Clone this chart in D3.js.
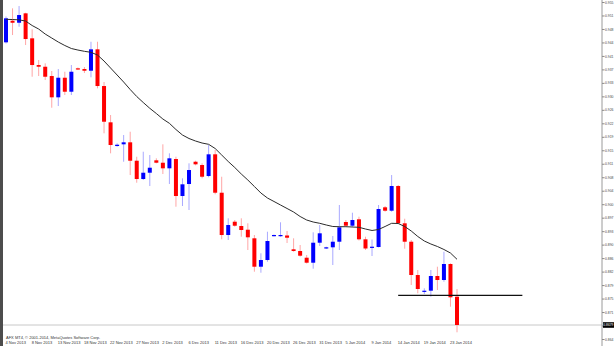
<!DOCTYPE html>
<html>
<head>
<meta charset="utf-8">
<script src="https://cdn.jsdelivr.net/npm/d3@7"></script>
<style>
  html, body { margin: 0; padding: 0; background: #fff; overflow: hidden; }
  svg { display: block; font-family: 'Liberation Sans', Arial, sans-serif; }
</style>
</head>
<body>
<svg width="614" height="346"></svg>
<script>
// daily bars, Sunday sessions included
const dates = [
  '4 Nov 2013', '5 Nov 2013', '6 Nov 2013', '7 Nov 2013', '8 Nov 2013', '10 Nov 2013', '11 Nov 2013', '12 Nov 2013',
  '13 Nov 2013', '14 Nov 2013', '15 Nov 2013', '17 Nov 2013', '18 Nov 2013', '19 Nov 2013', '20 Nov 2013', '21 Nov 2013',
  '22 Nov 2013', '24 Nov 2013', '25 Nov 2013', '26 Nov 2013', '27 Nov 2013', '28 Nov 2013', '29 Nov 2013',
  '1 Dec 2013', '2 Dec 2013', '3 Dec 2013', '4 Dec 2013', '5 Dec 2013', '6 Dec 2013', '8 Dec 2013', '9 Dec 2013',
  '10 Dec 2013', '11 Dec 2013', '12 Dec 2013', '13 Dec 2013', '15 Dec 2013', '16 Dec 2013', '17 Dec 2013', '18 Dec 2013',
  '19 Dec 2013', '20 Dec 2013', '22 Dec 2013', '23 Dec 2013', '24 Dec 2013', '26 Dec 2013', '27 Dec 2013', '29 Dec 2013',
  '30 Dec 2013', '31 Dec 2013',
  '1 Jan 2014', '2 Jan 2014', '3 Jan 2014', '5 Jan 2014', '6 Jan 2014', '7 Jan 2014', '8 Jan 2014', '9 Jan 2014',
  '10 Jan 2014', '12 Jan 2014', '13 Jan 2014', '14 Jan 2014', '15 Jan 2014', '16 Jan 2014', '17 Jan 2014', '19 Jan 2014',
  '20 Jan 2014', '21 Jan 2014', '22 Jan 2014', '23 Jan 2014', '24 Jan 2014',
];

const opens = [
  0.94421, 0.95004, 0.94950, 0.95204, 0.94529, 0.93808, 0.93762, 0.93511, 0.92936, 0.93465,
  0.93087, 0.93719, 0.93700, 0.93654, 0.94232, 0.93241, 0.92261, 0.91621, 0.91667, 0.91721,
  0.91224, 0.90730, 0.90900, 0.91235, 0.91170, 0.91019, 0.91270, 0.90271, 0.90595, 0.91197,
  0.91108, 0.90811, 0.91397, 0.90360, 0.89218, 0.89577, 0.89461, 0.89361, 0.89129, 0.88362,
  0.88543, 0.89191, 0.89191, 0.89205, 0.88832, 0.88786, 0.88605, 0.88470, 0.89010, 0.88859,
  0.88886, 0.89037, 0.89569, 0.89469, 0.89642, 0.89102, 0.88875, 0.88894, 0.89966, 0.89874,
  0.90541, 0.89534, 0.89037, 0.88138, 0.87687, 0.87714, 0.88111, 0.88003, 0.88435, 0.87552,
];
const highs = [
  0.95118, 0.95339, 0.95401, 0.95220, 0.94772, 0.93943, 0.93854, 0.93646, 0.93700, 0.93627,
  0.93808, 0.93741, 0.93754, 0.94437, 0.94437, 0.93349, 0.92458, 0.91694, 0.91918, 0.92007,
  0.91332, 0.91467, 0.91378, 0.91289, 0.91667, 0.91424, 0.91332, 0.90749, 0.91154, 0.91224,
  0.91154, 0.91648, 0.91513, 0.90792, 0.89669, 0.89623, 0.89669, 0.89534, 0.89218, 0.88724,
  0.89307, 0.89232, 0.89561, 0.89326, 0.89129, 0.88948, 0.88678, 0.89291, 0.89488, 0.88902,
  0.89191, 0.90028, 0.89623, 0.89820, 0.89712, 0.89172, 0.89097, 0.90028, 0.90001, 0.90838,
  0.90568, 0.89658, 0.89083, 0.88273, 0.87779, 0.88273, 0.88362, 0.88767, 0.88454, 0.87760,
];
const lows = [
  0.94389, 0.94618, 0.94842, 0.94348, 0.93492, 0.93511, 0.93403, 0.92655, 0.92701, 0.92998,
  0.92998, 0.93673, 0.93592, 0.93476, 0.93179, 0.91964, 0.91424, 0.91602, 0.91197, 0.90838,
  0.90630, 0.90703, 0.90541, 0.91154, 0.90865, 0.90595, 0.89982, 0.90001, 0.89893, 0.91100,
  0.90749, 0.90776, 0.90317, 0.89102, 0.89083, 0.89442, 0.89172, 0.88813, 0.88227, 0.88200,
  0.88497, 0.89178, 0.89172, 0.89002, 0.88767, 0.88632, 0.88449, 0.88308, 0.88921, 0.88840,
  0.88408, 0.88813, 0.89442, 0.89426, 0.89070, 0.88813, 0.88651, 0.88881, 0.89847, 0.89847,
  0.89515, 0.88848, 0.87868, 0.87644, 0.87625, 0.87552, 0.87733, 0.87957, 0.87282, 0.86591,
];
const closes = [
  0.95069, 0.94950, 0.95158, 0.94510, 0.93808, 0.93762, 0.93492, 0.92936, 0.93465, 0.93087,
  0.93627, 0.93692, 0.93654, 0.94232, 0.93241, 0.92277, 0.91648, 0.91656, 0.91721, 0.91224,
  0.90730, 0.90900, 0.91035, 0.91170, 0.91019, 0.91289, 0.90271, 0.90587, 0.90973, 0.91127,
  0.90792, 0.91397, 0.90360, 0.89218, 0.89488, 0.89469, 0.89353, 0.89156, 0.88362, 0.88543,
  0.89056, 0.89218, 0.89218, 0.89145, 0.88786, 0.88659, 0.88470, 0.89010, 0.89264, 0.88886,
  0.89037, 0.89426, 0.89469, 0.89623, 0.89102, 0.88854, 0.88902, 0.89920, 0.89874, 0.90541,
  0.89534, 0.89037, 0.88138, 0.87760, 0.87714, 0.88111, 0.88003, 0.88435, 0.87536, 0.86788,
];
// moving average
const maValues = [
  0.95042, 0.95037, 0.95028, 0.94996, 0.94875, 0.94780, 0.94645, 0.94537, 0.94429, 0.94335,
  0.94254, 0.94213, 0.94178, 0.94151, 0.94078, 0.93916, 0.93727, 0.93538, 0.93349, 0.93147,
  0.92958, 0.92796, 0.92639, 0.92499, 0.92350, 0.92234, 0.92067, 0.91918, 0.91824, 0.91756,
  0.91702, 0.91667, 0.91554, 0.91378, 0.91203, 0.91041, 0.90865, 0.90703, 0.90528, 0.90352,
  0.90217, 0.90123, 0.90028, 0.89934, 0.89839, 0.89718, 0.89623, 0.89569, 0.89534, 0.89488,
  0.89448, 0.89442, 0.89442, 0.89434, 0.89426, 0.89380, 0.89340, 0.89367, 0.89448, 0.89534,
  0.89529, 0.89448, 0.89326, 0.89178, 0.89056, 0.88975, 0.88908, 0.88827, 0.88732, 0.88562,
];
const priceTicks = [
  0.86410, 0.86774, 0.87138, 0.87502, 0.87866, 0.88230, 0.88594, 0.88958, 0.89322, 0.89686,
  0.90050, 0.90414, 0.90778, 0.91142, 0.91506, 0.91870, 0.92234, 0.92598, 0.92962, 0.93326,
  0.93690, 0.94054, 0.94418, 0.94782, 0.95146, 0.95510,
];
const levelPrice = 0.87590;
const levelBars = [60, 79];
const copyright = 'AFX MT4, \u00a9 2001-2014, MetaQuotes Software Corp.';

const svg = d3.select('svg');
const height = 346;
const axisX = 602;

const x = d3.scaleLinear().domain([0, dates.length - 1]).range([6, 457]);
const y = d3.scaleLinear().domain([0.8641, 0.9551]).range([339, 2]);
const bodyW = 4;

const bars = dates.map((d, i) => ({ i, o: opens[i], h: highs[i], l: lows[i], c: closes[i] }));
const last = closes[closes.length - 1];

// window frame on the left
svg.append('rect').attr('x', 0).attr('y', 0).attr('width', 3).attr('height', height).attr('fill', '#4d4d4d');

// bid line
svg.append('line')
  .attr('x1', 3).attr('x2', axisX)
  .attr('y1', y(last)).attr('y2', y(last))
  .attr('stroke', '#c8c8c8').attr('stroke-width', 1);

const g = svg.append('g');
g.selectAll('line.wick')
  .data(bars)
  .enter()
  .append('line')
  .attr('class', 'wick')
  .attr('x1', d => x(d.i)).attr('x2', d => x(d.i))
  .attr('y1', d => y(d.h)).attr('y2', d => y(d.l))
  .attr('stroke', d => (d.c >= d.o ? '#a9a9ff' : '#ffa6a6'))
  .attr('stroke-width', 1);

g.selectAll('rect.body')
  .data(bars)
  .enter()
  .append('rect')
  .attr('class', 'body')
  .attr('x', d => x(d.i) - bodyW / 2)
  .attr('y', d => y(Math.max(d.o, d.c)))
  .attr('width', bodyW)
  .attr('height', d => Math.max(1.2, Math.abs(y(d.o) - y(d.c))))
  .attr('fill', d => (d.c >= d.o ? '#0000ff' : '#ff0000'));

// moving average
svg.append('path')
  .datum(maValues)
  .attr('d', d3.line().x((d, i) => x(i)).y(d => y(d)))
  .attr('fill', 'none')
  .attr('stroke', '#2b2b2b')
  .attr('stroke-width', 1);

// horizontal level
svg.append('line')
  .attr('x1', x(levelBars[0])).attr('x2', x(levelBars[1]))
  .attr('y1', y(levelPrice)).attr('y2', y(levelPrice))
  .attr('stroke', '#111').attr('stroke-width', 1.2);

// price scale
svg.append('line')
  .attr('x1', axisX).attr('x2', axisX).attr('y1', 0).attr('y2', height)
  .attr('stroke', '#9a9a9a').attr('stroke-width', 1);

// labels squeezed so they fit in the few pixels left of the edge
const yAxis = svg.append('g')
  .attr('transform', `translate(${axisX}, 0)`)
  .call(d3.axisRight(y).tickValues(priceTicks).tickSize(2.5).tickSizeOuter(0).tickFormat(d3.format('.3f')));
yAxis.select('.domain').remove();
yAxis.selectAll('line').attr('stroke', '#8a8a8a');
yAxis.selectAll('text')
  .attr('x', 3)
  .attr('font-size', 3.4)
  .attr('fill', '#444')
  .attr('font-family', 'Liberation Sans, Arial, sans-serif');
// the tick label hidden behind the bid tag, as in the terminal
yAxis.selectAll('.tick')
  .filter(d => Math.abs(y(d) - y(last)) < 5)
  .select('text')
  .remove();

const priceTag = svg.append('g').attr('transform', `translate(${axisX + 1}, ${y(last)})`);
priceTag.append('rect').attr('x', 0).attr('y', -2.8).attr('width', 11).attr('height', 5.6).attr('fill', '#000');
priceTag.append('text')
  .attr('x', 0.3).attr('y', 1.3)
  .attr('font-size', 3.3)
  .attr('fill', '#fff')
  .text(d3.format('.4f')(last));

// time scale
const labelBars = dates.map((d, i) => i).filter(i => i % 4 === 0);
const xAxis = svg.append('g')
  .attr('transform', 'translate(0, 341)')
  .call(d3.axisBottom(x).tickValues(labelBars).tickSize(0).tickFormat(i => dates[i]));
xAxis.select('.domain').remove();
xAxis.selectAll('text')
  .attr('text-anchor', 'start')
  .attr('x', -1)
  .attr('y', 0.5)
  .attr('dy', '0.71em')
  .attr('font-size', 4)
  .attr('fill', '#333')
  .attr('font-family', 'Liberation Sans, Arial, sans-serif');

svg.append('text')
  .attr('x', 6).attr('y', 338.5)
  .attr('font-size', 4)
  .attr('fill', '#333')
  .text(copyright);
</script>
</body>
</html>
